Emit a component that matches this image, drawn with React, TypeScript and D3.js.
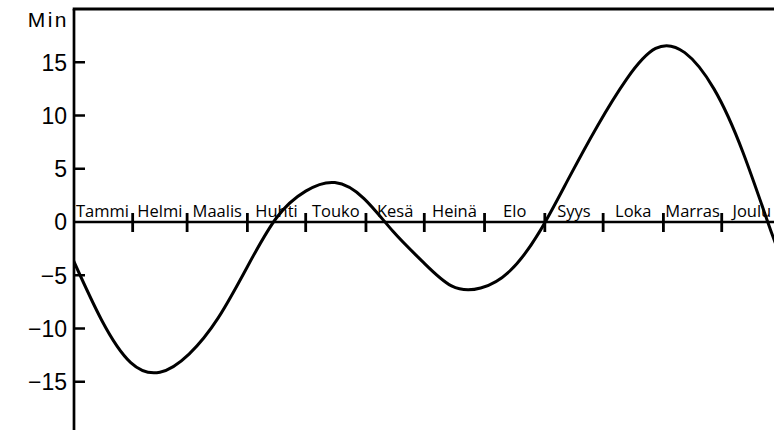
import React, { useEffect } from "react";
import * as d3 from "d3";

// Month names and the first day (day of year) of each month
const months = ["Tammi", "Helmi", "Maalis", "Huhti", "Touko", "Kesä", "Heinä", "Elo", "Syys", "Loka", "Marras", "Joulu"];
const monthStart = [0, 31, 59, 90, 120, 151, 181, 212, 243, 273, 304, 334, 365];

// Curve: day of year / minutes
const days = [0, 15, 30, 45, 60, 75, 90, 105, 120, 135, 150, 165, 180, 195, 210, 225, 240, 255, 270, 285, 300, 315, 330, 345, 360, 365];
const minutes = [-3.4, -9.2, -13.2, -14.1, -12.4, -9.0, -4.2, 0.4, 2.9, 3.7, 2.2, -0.9, -3.7, -6.0, -6.2, -4.6, -1.0, 4.0, 9.0, 13.4, 16.3, 15.9, 12.5, 6.5, -1.2, -3.3];

const yTicks = [-15, -10, -5, 0, 5, 10, 15];

const width = 774, height = 430;
const axisX = 74;

export default function App() {
  useEffect(() => {
    document.body.style.margin = "0";
  }, []);

  const x = d3.scaleLinear().domain([0, 365]).range([72.4, 782]);
  const y = d3.scaleLinear().domain([-20, 20]).range([435, 9]);

  const line = d3.line<number>()
    .x((_, i) => x(days[i]))
    .y(d => y(d))
    .curve(d3.curveNatural);

  const fmt = (v: number) => (v < 0 ? "\u2212" + Math.abs(v) : String(v));
  const axisFont = { fontFamily: "'Liberation Sans', Arial, sans-serif", fontSize: 23 };

  return (
    <svg width={width} height={height} style={{ display: "block", background: "#fff" }}>
      <defs>
        <clipPath id="plot">
          <rect x={axisX} y={0} width={width - axisX} height={height} />
        </clipPath>
      </defs>

      {/* frame top and y axis */}
      <line x1={axisX - 1.3} x2={width} y1={y(20)} y2={y(20)} stroke="#000" strokeWidth={3} />
      <line x1={axisX} x2={axisX} y1={y(20)} y2={height} stroke="#000" strokeWidth={2.7} />

      {/* y ticks and labels */}
      {yTicks.map(t => (
        <g key={t}>
          {t !== 0 && (
            <line x1={axisX} x2={axisX + 11} y1={y(t)} y2={y(t)} stroke="#000" strokeWidth={2.5} />
          )}
          <text x={67} y={y(t)} dy="0.36em" textAnchor="end" style={axisFont}>
            {fmt(t)}
          </text>
        </g>
      ))}
      <text x={69} y={27} textAnchor="end" style={{ ...axisFont, fontSize: 21, letterSpacing: 2.5 }}>Min</text>

      {/* zero line with month ticks */}
      <line x1={axisX} x2={width} y1={y(0)} y2={y(0)} stroke="#000" strokeWidth={2.5} />
      {monthStart.slice(1, 12).map(d => (
        <line key={d} x1={x(d)} x2={x(d)} y1={y(0) - 9} y2={y(0) + 10} stroke="#000" strokeWidth={2.8} />
      ))}
      {months.map((m, i) => (
        <text key={m} x={(x(monthStart[i]) + x(monthStart[i + 1])) / 2} y={y(0) - 5.5} textAnchor="middle"
          style={{ fontFamily: "'Open Sans', Lato, sans-serif", fontSize: 16.5 }}>
          {m}
        </text>
      ))}

      {/* curve */}
      <path d={line(minutes) || ""} fill="none" stroke="#000" strokeWidth={3} clipPath="url(#plot)" />
    </svg>
  );
}
